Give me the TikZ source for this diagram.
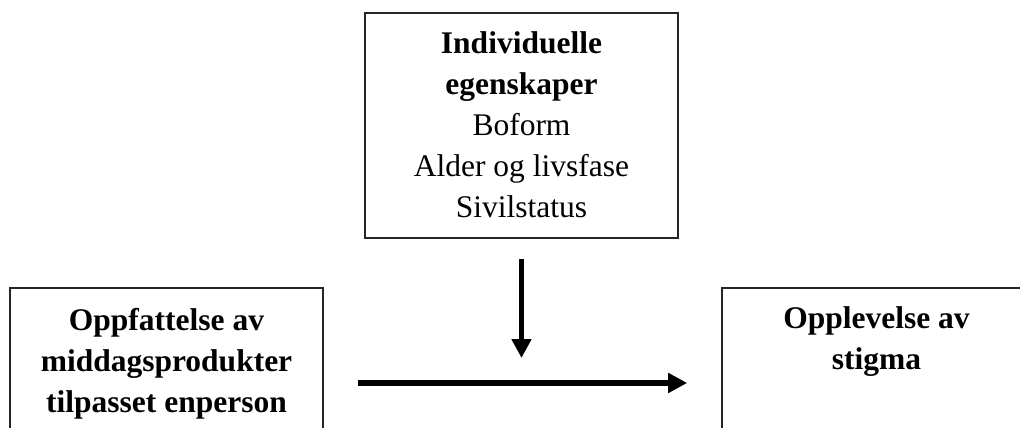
\documentclass[tikz,border=0pt]{standalone}
\usepackage{fontspec}
\setmainfont{Liberation Serif}
\usetikzlibrary{arrows.meta}

\tikzset{
  framebox/.style={draw=black!85, line width=1.6pt, minimum width=313pt, inner sep=0pt},
  boxtext/.style={align=center, inner sep=0pt, anchor=north,
    font=\fontsize{31.5pt}{41pt}\selectfont},
  flowarrow/.style={line width=6.4pt, -{Triangle[length=19pt,width=19pt]}},
}

\begin{document}
\begin{tikzpicture}[x=1pt, y=-1pt]
  \useasboundingbox (0,0) rectangle (1020,428);
  \clip (0,0) rectangle (1020,428);

  % frames: the two lower boxes run past the page edge
  \node[framebox, minimum height=225pt] (indiv) at (521.5,125.5) {};
  \node[framebox, minimum height=190pt] (oppf)  at (166.5,383) {};
  \node[framebox, minimum height=190pt] (stigma) at (878.5,383) {};

  % box contents
  \node[boxtext] (indivtxt) at (521.5,31.5)
    {\textbf{Individuelle}\\\textbf{egenskaper}\\Boform\\Alder og livsfase\\Sivilstatus};
  \node[boxtext] (oppftxt) at (166.5,308.5)
    {\textbf{Oppfattelse av}\\\textbf{middagsprodukter}\\\textbf{tilpasset enperson}};
  \node[boxtext] (stigmatxt) at (876.5,306.5)
    {\textbf{Opplevelse av}\\\textbf{stigma}};

  % connectors
  \draw[flowarrow, shorten <=34pt, shorten >=34pt] (oppf.east) -- (stigma.west);
  \coordinate (join) at (indiv.south |- oppf.east);
  \draw[flowarrow, line width=5.6pt, shorten <=20pt, shorten >=25pt] (indiv.south) -- (join);
\end{tikzpicture}
\end{document}
